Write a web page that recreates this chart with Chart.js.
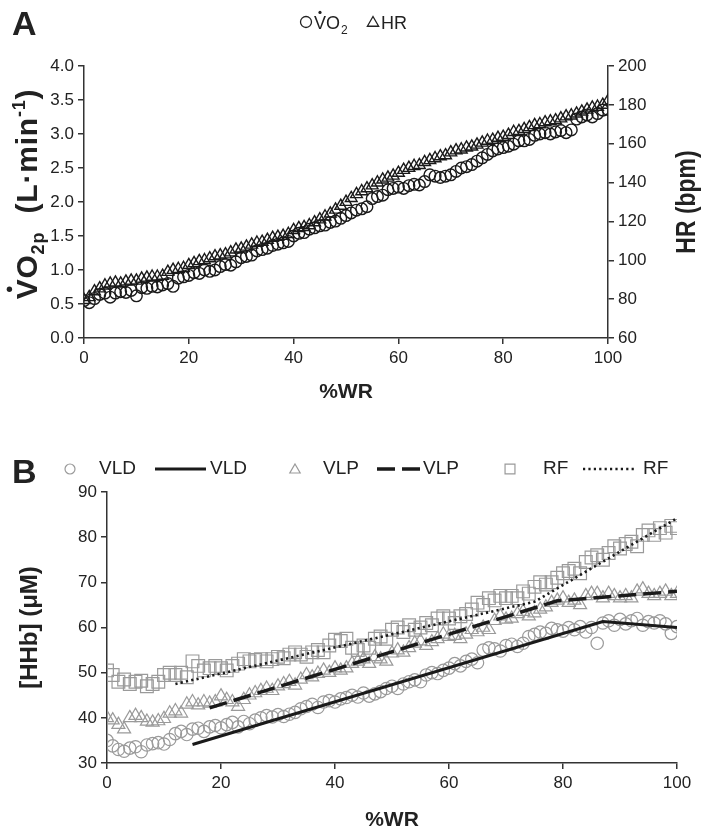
<!DOCTYPE html>
<html>
<head>
<meta charset="utf-8">
<script src="https://cdn.jsdelivr.net/npm/chart.js@4.4.1/dist/chart.umd.min.js"></script>
<style>
  body { margin: 0; background: #fff; width: 702px; height: 838px; overflow: hidden; position: relative; }
  #chartA { position: absolute; left: 0; top: 0; }
  #chartB { position: absolute; left: 0; top: 430px; }
</style>
</head>
<body>
<canvas id="chartA" width="702" height="430"></canvas>
<canvas id="chartB" width="702" height="408"></canvas>
<script>
// %WR positions shared by both panels
const wrPct = [0,1,2,3,4,5,6,7,8,9,10,11,12,13,14,15,16,17,18,19,20,21,22,23,24,25,26,27,28,29,30,
  31,32,33,34,35,36,37,38,39,40,41,42,43,44,45,46,47,48,49,50,51,52,53,54,55,56,57,58,59,60,
  61,62,63,64,65,66,67,68,69,70,71,72,73,74,75,76,77,78,79,80,81,82,83,84,85,86,87,88,89,90,
  91,92,93,94,95,96,97,98,99,100];

// Panel A: VO2p (L/min) and HR (bpm)
const vo2p = [0.55,0.52,0.58,0.64,0.66,0.60,0.66,0.68,0.67,0.70,0.62,
  0.74,0.73,0.76,0.75,0.78,0.80,0.76,0.88,0.90,0.92,
  0.96,0.95,1.00,0.98,1.00,1.05,1.08,1.07,1.12,1.18,
  1.20,1.22,1.28,1.30,1.32,1.36,1.38,1.40,1.42,1.50,
  1.54,1.55,1.60,1.62,1.65,1.66,1.70,1.72,1.76,1.80,
  1.84,1.88,1.90,1.93,2.05,2.08,2.10,2.18,2.20,2.22,
  2.20,2.24,2.26,2.25,2.30,2.40,2.38,2.36,2.38,2.40,
  2.45,2.50,2.52,2.55,2.60,2.65,2.70,2.75,2.78,2.80,
  2.82,2.85,2.90,2.90,2.92,2.98,3.00,3.02,3.00,3.03,
  3.05,3.02,3.06,3.22,3.25,3.28,3.25,3.30,3.35,3.36];
const hrBpm = [79.5,81,84,85.5,87,88,88.5,88,89,89.5,89.5,
  90.5,91,91.5,91.5,92,94,95,95.5,96,97.5,
  98.5,99.5,100,101,102,102.5,103,104,105.5,106,
  107,108,109,109.5,110.5,111.5,112,112.5,113.5,115.5,
  116.5,117,118,119.5,121,122.5,124,126,128,130,
  132,134,135.5,137,138.5,140,141.5,142.5,143.5,145,
  146.5,147.5,148.5,149,150.5,151.5,152.5,153.5,154,155.5,
  156.5,157,158,158.5,159.5,160.5,161.5,162,163,163.5,
  164.5,166,166.5,167.5,168.5,169.5,170,171,171.5,172,
  173,174,174.5,175.5,176.5,177.5,178.5,179,180,182];

// Panel B: [HHb] (uM) per muscle
const vldHHb = [35,33.8,33,32.6,33.3,33.6,32.5,34,34.3,34.5,34.2,
  35.2,36.5,37,36.3,37.5,37.7,37,38,38.3,37.8,
  38.5,39,38,39.2,38.7,39.5,40,40.5,40.2,40.7,
  40.3,40.8,41.2,42,42.5,43,42.3,43.5,43.8,43.5,
  44.2,44.5,45,44.6,45.5,44.8,45.3,45.8,46.5,47,
  46.5,47.5,48,48.4,48,49.5,50,49.8,50.5,51,
  52,51.5,52.5,53,52.2,55,55.5,55.3,54.8,56,
  56.3,55.8,56.5,58,58.5,59,58.7,59.8,59.5,59.2,
  60,59.5,60.2,59,60,56.5,61,61.5,60.5,61.8,
  60.8,61.5,62,60.5,61.3,61,61.5,60.8,58.7,60.2];
const vlpHHb = [40,39.5,38.5,37.5,40,40.5,40,39.2,39,39.3,39.8,
  41,41.5,41,43,43.5,42.8,43.5,43.2,43.5,44.8,
  44,43.5,42.5,44,45,45.5,46,46.5,46,47,
  47.5,48,47.2,48.5,49.5,49,49.8,50.5,50,51,
  50.5,51,52,52.5,53,52,53.5,53,52.5,54.3,
  55,54.5,55.5,56.5,57,56,56.8,57.5,58.5,58,
  58.2,57.5,58.5,59.5,59,60,59.5,61.5,62.5,61.8,
  62,63,63.5,62.5,63.2,64,64.5,65.5,66,66.5,
  65.5,66,65,67,67.5,67.5,66.5,67.5,67,66.5,
  67,66.5,68,68.5,67.5,67,67.5,68,67,67.5];
const rfHHb = [50.5,49.5,48,48.5,47.5,48,48.2,47,47.5,48,49.5,
  50,49.5,50,49,52.5,51.5,50.5,51,51.5,51,
  50.5,51.5,52,53,52.5,52.8,53,52.5,53,53.5,
  53.2,54,54.5,54,53.5,54.5,55,54.5,56,57.3,
  57,57.5,55.5,55,56,55.5,57.5,58,57.5,59.5,
  60,59,60.5,59.5,60,61,60.5,62,62.5,62,
  61,62.5,63,64,65.5,65,66.5,66,67,66.5,
  67,66.5,68,67.5,69,70,69.5,70,71,72,
  72.5,73,72,74.5,75.5,76,75,76.5,78,77.5,
  78.5,79,78,80.5,81.5,80.5,82,81,82.5,82];

// fitted lines (breakpoints)
const vldFitX = [15, 87, 100], vldFitY = [34.1, 61.3, 60];
const vlpFitX = [18, 79, 100], vlpFitY = [42.2, 65.9, 68];
const rfFitX = [12, 75, 100], rfFitY = [47.5, 65.7, 84.2];

const FONT = '"Liberation Sans", Arial, Helvetica, sans-serif';
Chart.defaults.font.family = FONT;
Chart.defaults.color = '#222';

const AX = '#333';
const GRAY = '#9a9a9a';

function pts(xs, ys) {
  return xs.map((x, i) => ({ x: x, y: ys[i] }));
}

function axisBase(extra) {
  return Object.assign({
    type: 'linear',
    grid: { drawOnChartArea: false, drawTicks: true, tickLength: 6, color: AX, lineWidth: 1.5 },
    border: { display: true, color: AX, width: 1.5 },
    ticks: { color: '#222', font: { size: 17 }, padding: 4 }
  }, extra);
}

function marker(ctx, style, r, x, y, color, bw) {
  ctx.save();
  ctx.strokeStyle = color;
  ctx.fillStyle = 'rgba(0,0,0,0)';
  ctx.lineWidth = bw;
  Chart.helpers.drawPoint(ctx, { pointStyle: style, radius: r, borderWidth: bw }, x, y);
  ctx.restore();
}

// V with dot above, returns width
function drawVdot(ctx, x, baseY, size) {
  ctx.fillText('V', x, baseY);
  const w = ctx.measureText('V').width;
  ctx.beginPath();
  ctx.arc(x + w / 2, baseY - size * 0.92, size * 0.09, 0, Math.PI * 2);
  ctx.fill();
  return w;
}

const panelAExtras = {
  id: 'panelAExtras',
  afterDraw(chart) {
    const ctx = chart.ctx;
    const area = chart.chartArea;
    ctx.save();
    ctx.fillStyle = '#222';
    ctx.textBaseline = 'alphabetic';

    ctx.font = 'bold 34px ' + FONT;
    ctx.fillText('A', 12, 35);

    // legend  o VO2  ^ HR
    marker(ctx, 'circle', 5.5, 306, 22, '#222', 1.3);
    ctx.font = '18px ' + FONT;
    let x = 314;
    x += drawVdot(ctx, x, 29, 18);
    ctx.fillText('O', x, 29);
    x += ctx.measureText('O').width + 1;
    ctx.font = '12px ' + FONT;
    ctx.fillText('2', x, 34);
    marker(ctx, 'triangle', 6.5, 373, 23, '#222', 1.3);
    ctx.font = '18px ' + FONT;
    ctx.fillText('HR', 381, 29);

    // left axis title, rotated
    const big = 'bold 30px ' + FONT, small = 'bold 18px ' + FONT;
    const gap = 0.8;
    const parts = [
      { t: 'V', f: big, dy: 0, dot: true },
      { t: 'O', f: big, dy: 0 },
      { t: '2p', f: small, dy: 7 },
      { t: '  (L\u00b7min', f: big, dy: 0 },
      { t: '-1', f: small, dy: -12 },
      { t: ')', f: big, dy: 0 }
    ];
    let total = 0;
    parts.forEach(p => {
      ctx.font = p.f;
      p.w = ctx.measureText(p.t).width + gap * p.t.length;
      total += p.w;
    });
    ctx.save();
    ctx.translate(37, 194);
    ctx.rotate(-Math.PI / 2);
    let cx = -total / 2;
    parts.forEach(p => {
      ctx.font = p.f;
      let px = cx;
      for (const ch of p.t) {
        if (p.dot) drawVdot(ctx, px, p.dy, 30);
        else ctx.fillText(ch, px, p.dy);
        px += ctx.measureText(ch).width + gap;
      }
      cx += p.w;
    });
    ctx.restore();

    // right axis title
    ctx.save();
    ctx.font = 'bold 27px ' + FONT;
    ctx.translate(695, (area.top + area.bottom) / 2);
    ctx.rotate(-Math.PI / 2);
    ctx.scale(0.85, 1);
    ctx.textAlign = 'center';
    ctx.fillText('HR (bpm)', 0, 0);
    ctx.restore();

    ctx.restore();
  }
};

new Chart(document.getElementById('chartA'), {
  type: 'line',
  data: {
    datasets: [
      {
        label: 'VO2', data: pts(wrPct, vo2p), yAxisID: 'yVO2', showLine: false,
        pointStyle: 'circle', pointRadius: 5.8, pointBorderWidth: 1.4,
        borderColor: '#1a1a1a', pointBackgroundColor: 'rgba(0,0,0,0)'
      },
      {
        label: 'HR', data: pts(wrPct, hrBpm), yAxisID: 'yHR', showLine: false,
        pointStyle: 'triangle', pointRadius: 6.8, pointBorderWidth: 1.4,
        borderColor: '#1a1a1a', pointBackgroundColor: 'rgba(0,0,0,0)'
      }
    ]
  },
  options: {
    responsive: false,
    animation: false,
    layout: { padding: { top: 66, left: 0, right: 0, bottom: 0 } },
    plugins: { legend: { display: false }, tooltip: { enabled: false } },
    scales: {
      x: axisBase({
        min: 0, max: 100,
        ticks: { stepSize: 20, color: '#222', font: { size: 17 }, padding: 4, maxRotation: 0 },
        title: { display: true, text: '%WR', color: '#222', font: { size: 21, weight: 'bold' }, padding: { top: 0, bottom: 25 } },
        afterFit(s) { s.height = 92; }
      }),
      yVO2: axisBase({
        position: 'left', min: 0, max: 4,
        ticks: { stepSize: 0.5, color: '#222', font: { size: 17 }, padding: 4, callback: v => v.toFixed(1) },
        afterFit(s) { s.width = 84; }
      }),
      yHR: axisBase({
        position: 'right', min: 60, max: 200,
        ticks: { stepSize: 20, color: '#222', font: { size: 17 }, padding: 4 },
        afterFit(s) { s.width = 94; }
      })
    }
  },
  plugins: [panelAExtras]
});

const panelBExtras = {
  id: 'panelBExtras',
  afterDraw(chart) {
    const ctx = chart.ctx;
    ctx.save();
    ctx.fillStyle = '#222';
    ctx.font = 'bold 34px ' + FONT;
    ctx.fillText('B', 12, 53);

    const ly = 39;
    ctx.font = '19px ' + FONT;
    ctx.textBaseline = 'middle';
    const legendLine = (x1, x2, dash, w) => {
      ctx.save();
      ctx.strokeStyle = '#1a1a1a';
      ctx.lineWidth = w;
      ctx.setLineDash(dash);
      ctx.beginPath();
      ctx.moveTo(x1, ly);
      ctx.lineTo(x2, ly);
      ctx.stroke();
      ctx.restore();
    };
    marker(ctx, 'circle', 5, 70, ly, GRAY, 1.2);
    ctx.fillText('VLD', 99, ly);
    legendLine(155, 206, [], 3);
    ctx.fillText('VLD', 210, ly);
    marker(ctx, 'triangle', 6, 295, ly + 1, GRAY, 1.2);
    ctx.fillText('VLP', 323, ly);
    legendLine(377, 420, [18, 7], 3.5);
    ctx.fillText('VLP', 423, ly);
    marker(ctx, 'rect', 7, 510, ly, GRAY, 1.2);
    ctx.fillText('RF', 543, ly);
    legendLine(583, 634, [2.2, 3.2], 2.6);
    ctx.fillText('RF', 643, ly);
    ctx.restore();
  }
};

const lineSet = (label, xs, ys, dash, w) => ({
  label: label, data: pts(xs, ys), borderColor: '#1a1a1a', borderWidth: w,
  borderDash: dash, pointRadius: 0, tension: 0, fill: false
});
const markSet = (label, ys, style, r) => ({
  label: label, data: pts(wrPct, ys), showLine: false, pointStyle: style,
  pointRadius: r, pointBorderWidth: 1.2, borderColor: GRAY, pointBackgroundColor: 'rgba(0,0,0,0)'
});

new Chart(document.getElementById('chartB'), {
  type: 'line',
  data: {
    datasets: [
      lineSet('VLD fit', vldFitX, vldFitY, [], 3),
      lineSet('VLP fit', vlpFitX, vlpFitY, [18, 7], 3.5),
      lineSet('RF fit', rfFitX, rfFitY, [2.2, 3.2], 2.6),
      markSet('VLD', vldHHb, 'circle', 6.2),
      markSet('VLP', vlpHHb, 'triangle', 7.5),
      markSet('RF', rfHHb, 'rect', 9)
    ]
  },
  options: {
    responsive: false,
    animation: false,
    layout: { padding: { top: 62, left: 0, right: 25, bottom: 0 } },
    plugins: { legend: { display: false }, tooltip: { enabled: false } },
    scales: {
      x: axisBase({
        min: 0, max: 100,
        ticks: { stepSize: 20, color: '#222', font: { size: 17 }, padding: 4, maxRotation: 0 },
        title: { display: true, text: '%WR', color: '#222', font: { size: 21, weight: 'bold' }, padding: { top: 0, bottom: 5 } },
        afterFit(s) { s.height = 75; }
      }),
      y: axisBase({
        position: 'left', min: 30, max: 90,
        ticks: { stepSize: 10, color: '#222', font: { size: 17 }, padding: 4 },
        title: { display: true, text: '[HHb] (\u03bcM)', color: '#222', font: { size: 24, weight: 'bold' }, padding: { top: 16, bottom: 0 } },
        afterFit(s) { s.width = 107; }
      })
    }
  },
  plugins: [panelBExtras]
});
</script>
</body>
</html>
